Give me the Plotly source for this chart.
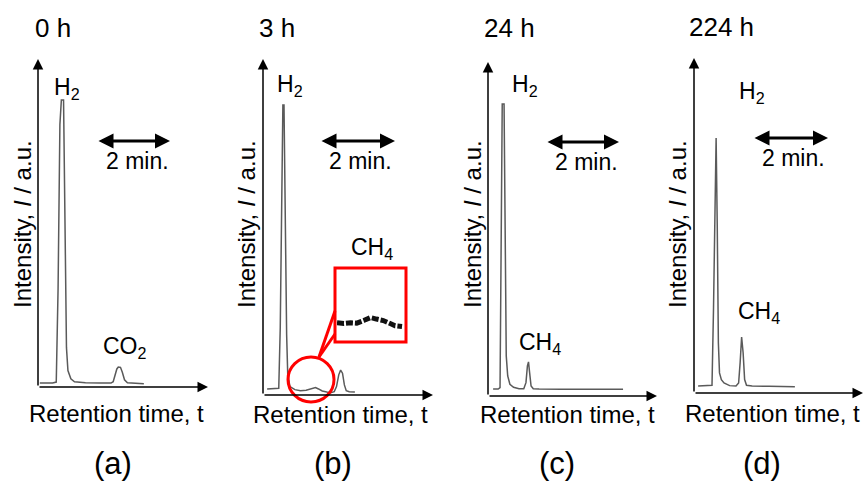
import plotly.graph_objects as go

W, H = 865, 486
FONT = "Liberation Sans, Arial, sans-serif"

# ---------------- data (retention time in min, intensity in a.u. 0-100) ----------------
time_a = [0.05, 0.40, 0.50, 0.55, 0.60, 0.64, 0.70, 0.74, 0.78, 0.82, 0.90, 1.00, 1.30, 1.70,
          2.00, 2.06, 2.11, 2.16, 2.20, 2.26, 2.31, 2.37, 2.45, 2.70, 2.90]
int_a = [1.2, 1.2, 1.5, 30, 80, 87.5, 87.5, 50, 12, 5, 2.5, 1.6, 1.3, 1.2,
         1.2, 1.6, 3.5, 5.5, 6.1, 6.0, 4.5, 2.2, 1.3, 1.1, 1.0]

time_b = [0.11, 0.30, 0.42, 0.46, 0.50, 0.53, 0.56, 0.59, 0.61, 0.63, 0.66, 0.72, 0.85, 1.00,
          1.15, 1.25, 1.32, 1.40, 1.48, 1.58, 1.70, 1.80, 1.90, 1.96, 2.02, 2.07, 2.12, 2.17,
          2.22, 2.30, 2.45]
int_b = [1.8, 1.8, 2.0, 20, 70, 86.3, 86.3, 50, 24, 18, 6, 2.5, 1.6, 1.3,
         1.4, 1.7, 2.0, 2.2, 1.8, 1.2, 0.9, 0.7, 1.0, 2.5, 6.0, 7.4, 6.5, 3.0,
         1.3, 1.0, 0.9]

time_c = [0.14, 0.28, 0.33, 0.36, 0.39, 0.44, 0.46, 0.48, 0.50, 0.54, 0.60, 0.70, 0.85, 0.98,
          1.04, 1.08, 1.11, 1.14, 1.18, 1.24, 1.40, 2.00, 3.00, 3.70]
int_c = [2.1, 2.1, 2.5, 50, 87.4, 87.4, 50, 38, 12, 6, 3.5, 2.6, 2.2, 2.2,
         4.0, 9.0, 10.2, 7.0, 3.0, 2.2, 2.1, 2.0, 2.0, 2.0]

time_d = [0.11, 0.35, 0.48, 0.52, 0.56, 0.59, 0.62, 0.65, 0.68, 0.73, 0.80, 0.95, 1.12, 1.19,
          1.23, 1.27, 1.31, 1.35, 1.40, 1.55, 2.00, 2.69]
int_d = [2.1, 2.1, 2.3, 25, 65, 76.1, 50, 15, 6, 4, 3, 2.2, 2.1, 3.0,
         9.0, 16.7, 12, 4.0, 2.3, 2.1, 2.0, 1.9]

# magnified CH4 region of (b)
time_inset = [1.00, 1.07, 1.14, 1.20, 1.27, 1.34, 1.40, 1.47, 1.54, 1.59, 1.66]
int_inset = [2.6, 2.5, 2.6, 2.55, 2.9, 3.3, 3.1, 2.9, 2.5, 2.2, 2.1]

times = [time_a, time_b, time_c, time_d]
intensities = [int_a, int_b, int_c, int_d]
panel_titles = ["0 h", "3 h", "24 h", "224 h"]
panel_tags = ["(a)", "(b)", "(c)", "(d)"]
x_label = "Retention time, t"
y_label = "Intensity, <i>I</i> / a.u."
scale_bar_min = 2
scale_bar_text = "2 min."

# ---------------- layout geometry (pixels) ----------------
def px(x):
    return x / W


def py(y):
    return 1 - y / H


panels = [
    dict(l=38, r=208, b=387, t=59, ppm=36.5, bar=(97, 141), ylab=22, xlab=(117, 413), tag=(113, 463),
         title=(33, 28),
         labels=[("H<sub>2</sub>", 67, 88), ("CO<sub>2</sub>", 125, 347)]),
    dict(l=263, r=433, b=395, t=59, ppm=37.5, bar=(320, 141), ylab=246, xlab=(340, 414), tag=(333, 463),
         title=(257, 28),
         labels=[("H<sub>2</sub>", 290, 86), ("CH<sub>4</sub>", 372, 248)]),
    dict(l=488, r=657, b=396, t=62, ppm=36.5, bar=(546, 142), ylab=472, xlab=(567, 414), tag=(557, 463),
         title=(482, 28),
         labels=[("H<sub>2</sub>", 525, 86), ("CH<sub>4</sub>", 540, 343)]),
    dict(l=694, r=863, b=393, t=58, ppm=37.5, bar=(753, 138), ylab=677, xlab=(772, 413), tag=(762, 463),
         title=(687, 27),
         labels=[("H<sub>2</sub>", 752, 92), ("CH<sub>4</sub>", 759, 312)]),
]

fig = go.Figure()
annotations = []
layout_axes = {}


def text_ann(x, y, txt, size, xanchor="center", angle=0):
    return dict(xref="paper", yref="paper", x=px(x), y=py(y), text=txt, showarrow=False,
                xanchor=xanchor, yanchor="middle", textangle=angle,
                font=dict(size=size, color="black", family=FONT))


for i, p in enumerate(panels):
    k = i + 1
    xa = "x" if k == 1 else f"x{k}"
    ya = "y" if k == 1 else f"y{k}"
    xmax = (p["r"] - p["l"]) / p["ppm"]
    layout_axes[f"xaxis{k}"] = dict(domain=[px(p["l"]), px(p["r"])], range=[0, xmax], anchor=ya,
                                    visible=False, fixedrange=True)
    layout_axes[f"yaxis{k}"] = dict(domain=[py(p["b"]), py(p["t"])], range=[0, 100], anchor=xa,
                                    visible=False, fixedrange=True)

    fig.add_trace(go.Scatter(x=times[i], y=intensities[i], xaxis=xa, yaxis=ya, mode="lines",
                             line=dict(color="#5a5a5a", width=1.5), showlegend=False,
                             hoverinfo="skip"))

    # axes with arrow heads
    for (x, y) in [(xmax, 0), (0, 100)]:
        annotations.append(dict(xref=xa, yref=ya, axref=xa, ayref=ya, x=x, y=y, ax=0, ay=0,
                                text="", showarrow=True, arrowhead=2, arrowsize=1.4,
                                arrowwidth=1.5, arrowcolor="black"))

    # 2 min scale bar
    bx = (p["bar"][0] - p["l"]) / p["ppm"]
    by = (p["b"] - p["bar"][1]) / (p["b"] - p["t"]) * 100
    annotations.append(dict(xref=xa, yref=ya, axref=xa, ayref=ya, x=bx + scale_bar_min, y=by,
                            ax=bx, ay=by, text="", showarrow=True, arrowhead=2, startarrowhead=2,
                            arrowside="end+start", arrowsize=1, startarrowsize=1, arrowwidth=3,
                            arrowcolor="black"))
    annotations.append(text_ann(p["bar"][0] + 40, p["bar"][1] + 20, scale_bar_text, 23))

    # texts
    annotations.append(text_ann(p["title"][0], p["title"][1], panel_titles[i], 26, xanchor="left"))
    annotations.append(text_ann(p["ylab"], 224, y_label, 24, angle=-90))
    annotations.append(text_ann(p["xlab"][0], p["xlab"][1], x_label, 24))
    annotations.append(text_ann(p["tag"][0], p["tag"][1], panel_tags[i], 31))
    for (txt, lx, ly) in p["labels"]:
        annotations.append(text_ann(lx, ly, txt, 23))

# inset of (b)
layout_axes["xaxis5"] = dict(domain=[px(337), px(404)], range=[1.0, 1.68], anchor="y5",
                             visible=False, fixedrange=True)
layout_axes["yaxis5"] = dict(domain=[py(342), py(268)], range=[0, 10], anchor="x5",
                             visible=False, fixedrange=True)
fig.add_trace(go.Scatter(x=time_inset, y=int_inset, xaxis="x5", yaxis="y5", mode="lines",
                         line=dict(color="#111111", width=5, dash="7px,2px"), showlegend=False,
                         hoverinfo="skip"))

RED = "#ff0000"
shapes = [
    dict(type="circle", xref="paper", yref="paper", x0=px(288), x1=px(334), y0=py(402), y1=py(357),
         line=dict(color=RED, width=3)),
    dict(type="rect", xref="paper", yref="paper", x0=px(335), x1=px(406), y0=py(342), y1=py(268),
         line=dict(color=RED, width=3)),
    dict(type="line", xref="paper", yref="paper", x0=px(319), y0=py(357), x1=px(335), y1=py(311),
         line=dict(color=RED, width=3)),
    dict(type="line", xref="paper", yref="paper", x0=px(319), y0=py(357), x1=px(335), y1=py(334),
         line=dict(color=RED, width=3)),
]

fig.update_layout(width=W, height=H, margin=dict(l=0, r=0, t=0, b=0),
                  paper_bgcolor="white", plot_bgcolor="white",
                  annotations=annotations, shapes=shapes, **layout_axes)

fig.write_html("out.html")
